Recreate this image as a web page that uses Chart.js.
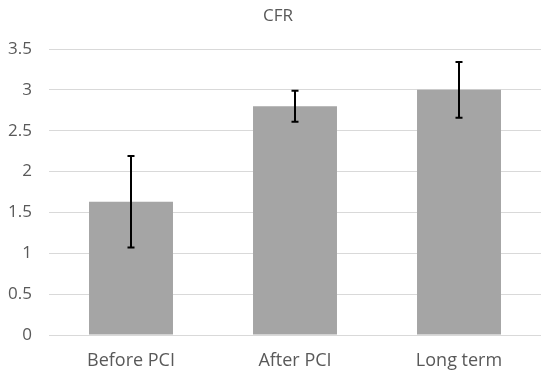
<!DOCTYPE html>
<html>
<head>
<meta charset="utf-8">
<script src="https://cdn.jsdelivr.net/npm/chart.js@4/dist/chart.umd.min.js"></script>
<style>
  html, body { margin: 0; padding: 0; background: #ffffff; }
  #wrap { width: 550px; height: 380px; position: relative; }
</style>
</head>
<body>
<div id="wrap"><canvas id="c" width="550" height="380"></canvas></div>
<script>
const categories = ["Before PCI", "After PCI", "Long term"];
const cfrValues = [1.63, 2.80, 3.00];
const cfrErrors = [0.56, 0.19, 0.34];
const yTicks = [0, 0.5, 1, 1.5, 2, 2.5, 3, 3.5];
const chartTitle = "CFR";

const textColor = "#595959";
const fontFamily = "'Open Sans', 'Liberation Sans', sans-serif";

const errorBarPlugin = {
  id: "errorBars",
  afterDatasetsDraw(chart) {
    const ctx = chart.ctx;
    const meta = chart.getDatasetMeta(0);
    const y = chart.scales.y;
    ctx.save();
    ctx.strokeStyle = "#000000";
    ctx.lineWidth = 2;
    meta.data.forEach((bar, i) => {
      const v = cfrValues[i], e = cfrErrors[i];
      const yt = y.getPixelForValue(v + e);
      const yb = y.getPixelForValue(v - e);
      const x = Math.round(bar.x);
      ctx.beginPath();
      ctx.moveTo(x, yt); ctx.lineTo(x, yb);
      ctx.moveTo(x - 3.5, yt); ctx.lineTo(x + 3.5, yt);
      ctx.moveTo(x - 3.5, yb); ctx.lineTo(x + 3.5, yb);
      ctx.stroke();
    });
    ctx.restore();
  }
};

const titlePlugin = {
  id: "centerTitle",
  afterDraw(chart) {
    const ctx = chart.ctx;
    ctx.save();
    ctx.fillStyle = textColor;
    ctx.font = "17px " + fontFamily;
    ctx.textAlign = "center";
    ctx.textBaseline = "middle";
    ctx.fillText(chartTitle, 278, 16);
    ctx.restore();
  }
};

new Chart(document.getElementById("c"), {
  type: "bar",
  data: {
    labels: categories,
    datasets: [{
      data: cfrValues,
      backgroundColor: "#a5a5a5",
      borderWidth: 0,
      categoryPercentage: 1.0,
      barPercentage: 0.512
    }]
  },
  options: {
    responsive: false,
    animation: false,
    layout: { padding: { top: 49, right: 9, bottom: 0, left: 0 } },
    plugins: { legend: { display: false }, tooltip: { enabled: false }, title: { display: false } },
    scales: {
      x: {
        grid: { display: false, drawTicks: false },
        border: { display: false },
        ticks: { color: textColor, font: { family: fontFamily, size: 18 }, padding: 15 },
        afterFit(s) { s.height = 45; }
      },
      y: {
        min: 0, max: 3.5,
        grid: { color: "#d9d9d9", lineWidth: 1, drawTicks: false },
        border: { display: false },
        afterBuildTicks(s) { s.ticks = yTicks.map(v => ({ value: v })); },
        ticks: {
          color: textColor, font: { family: fontFamily, size: 17 }, padding: 17,
          callback: (v) => String(v)
        },
        afterFit(s) { s.width = 49; }
      }
    }
  },
  plugins: [errorBarPlugin, titlePlugin]
});
</script>
</body>
</html>
